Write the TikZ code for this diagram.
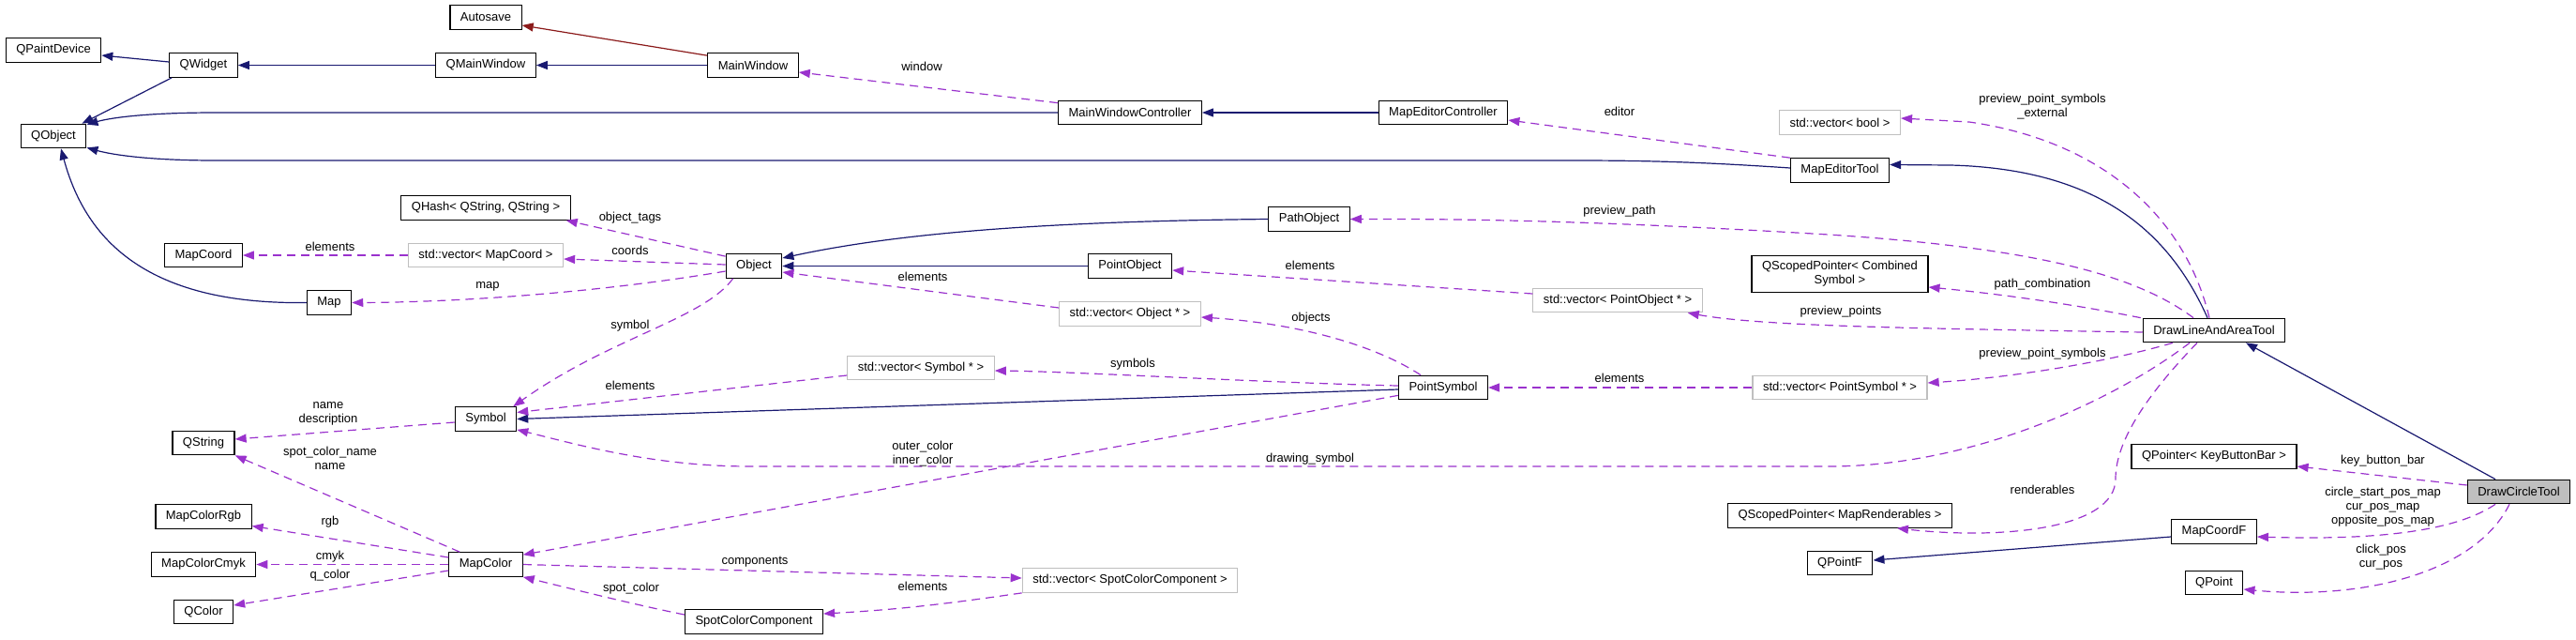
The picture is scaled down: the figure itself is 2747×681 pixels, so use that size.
\documentclass[tikz,border=0pt]{standalone}
\usepackage{fontspec}
\setmainfont{Liberation Sans}
\usetikzlibrary{arrows.meta}
\definecolor{edgeblue}{HTML}{191970}
\definecolor{edgepurple}{HTML}{9A32CD}
\definecolor{edgered}{HTML}{8B1A1A}
\definecolor{extgray}{HTML}{BFBFBF}

\begin{document}
\begin{tikzpicture}[x=1pt,y=-1pt,font=\fontsize{13}{15}\selectfont,
    cls/.style={draw=black,fill=white,line width=1.2pt,minimum height=25.5pt,inner xsep=11pt,inner ysep=2pt},
    ext/.style={cls,draw=extgray},
    cur/.style={cls,fill=extgray},
    inh/.style={draw=edgeblue,line width=1.2pt,-{Triangle[length=12pt,width=9pt]}},
    priv/.style={inh,draw=edgered,-{Triangle[length=12pt,width=9pt,fill=edgered]}},
    usage/.style={draw=edgepurple,line width=1.2pt,dash pattern=on 9pt off 6pt,-{Triangle[length=12pt,width=9pt,fill=edgepurple]}},
    lbl/.style={inner sep=0pt,text height=9pt,text depth=3pt},
    lbl2/.style={inner sep=0pt,align=center}]
    \useasboundingbox (0,0) rectangle (2747,681);

    \node[cls] (qpd) at (57,53.5) {QPaintDevice};
    \node[cls] (qwid) at (217,69.5) {QWidget};
    \node[cls] (qobj) at (57,145) {QObject};
    \node[cls] (autosave) at (518,18.5) {Autosave};
    \node[cls] (qmw) at (518,69.5) {QMainWindow};
    \node[cls] (mainwin) at (803,69.5) {MainWindow};
    \node[cls] (mwc) at (1205,120) {MainWindowController};
    \node[cls] (mec) at (1539,120) {MapEditorController};
    \node[ext] (vbool) at (1962,130.5) {std::vector< bool >};
    \node[cls] (met) at (1962,181.5) {MapEditorTool};
    \node[cls] (qhash) at (518,221.5) {QHash< QString, QString >};
    \node[cls] (pathobj) at (1396,233.5) {PathObject};
    \node[cls] (mapcoord) at (217,272) {MapCoord};
    \node[ext] (vmapcoord) at (518,272) {std::vector< MapCoord >};
    \node[cls] (object) at (804,283.5) {Object};
    \node[cls] (pointobj) at (1205,283.5) {PointObject};
    \node[cls,align=center,inner ysep=6pt] (qspcs) at (1962,292) {QScopedPointer< Combined\\Symbol >};
    \node[ext] (vpointobj) at (1725,320) {std::vector< PointObject * >};
    \node[ext] (vobject) at (1205,334.5) {std::vector< Object * >};
    \node[cls] (map) at (351,322.5) {Map};
    \node[cls] (dlat) at (2361,352) {DrawLineAndAreaTool};
    \node[ext] (vsymbol) at (982,392) {std::vector< Symbol * >};
    \node[cls] (pointsym) at (1539,413) {PointSymbol};
    \node[ext] (vpointsym) at (1962,413) {std::vector< PointSymbol * >};
    \node[cls] (symbol) at (518,446.5) {Symbol};
    \node[cls] (qstring) at (217,472) {QString};
    \node[cls] (qpkbb) at (2361,486.5) {QPointer< KeyButtonBar >};
    \node[cur] (dct) at (2686,524) {DrawCircleTool};
    \node[cls] (qspmr) at (1962,549.5) {QScopedPointer< MapRenderables >};
    \node[cls] (rgb) at (217,550.5) {MapColorRgb};
    \node[cls] (mcf) at (2361,566.5) {MapCoordF};
    \node[cls] (cmyk) at (217,601.5) {MapColorCmyk};
    \node[cls] (mapcolor) at (518,601.5) {MapColor};
    \node[cls] (qpointf) at (1962,600) {QPointF};
    \node[ext] (vscc) at (1205,618.5) {std::vector< SpotColorComponent >};
    \node[cls] (qpoint) at (2361,621) {QPoint};
    \node[cls] (qcolor) at (217,652) {QColor};
    \node[cls] (scc) at (804,662.5) {SpotColorComponent};

    \draw[inh] ([yshift=3.5pt]qwid.west) -- ([yshift=-5.5pt]qpd.east);
    \draw[inh] ([xshift=3pt]qwid.south west) -- ([xshift=-5pt]qobj.north east);
    \draw[inh] (qmw.west) -- (qwid.east);
    \draw[inh] (mainwin.west) -- (qmw.east);
    \draw[priv] ([yshift=-3pt]mainwin.north west) -- ([yshift=-8.5pt]autosave.east);
    \draw[inh] (mwc.west) -- (230,120) .. controls (160,120) and (120,125) .. ([yshift=-1pt]qobj.north east);
    \draw[inh] ([yshift=2.5pt]met.west) .. controls (1820,173) and (1760,171) .. (1680,171) -- (230,171) .. controls (160,171) and (120,165) .. ([yshift=1pt]qobj.south east);
    \draw[inh] (map.west) .. controls (150,325) and (90,250) .. ([xshift=8pt]qobj.south);
    \draw[inh] (mec.west) -- (mwc.east);
    \draw[inh] (pathobj.west) .. controls (1100,236) and (950,250) .. ([yshift=8.5pt]object.east);
    \draw[inh] (pointobj.west) -- (object.east);
    \draw[inh] ([yshift=-2pt]pointsym.west) -- (symbol.east);
    \draw[inh] ([xshift=-7pt]dlat.north) .. controls (2310,240) and (2230,180) .. (2080,176) -- ([yshift=6pt]met.east);
    \draw[inh] ([xshift=-25pt]dct.north) -- ([xshift=34pt]dlat.south);
    \draw[inh] ([yshift=-5.5pt]mcf.west) -- ([yshift=3pt]qpointf.east);

    \draw[usage] ([yshift=-3pt]mwc.north west) -- ([yshift=-7.5pt]mainwin.east);
    \node[lbl] (l-window) at (983,72) {window};
    \draw[usage] (met.north west) -- ([yshift=-8pt]mec.east);
    \node[lbl] (l-editor) at (1727,120) {editor};
    \draw[usage] ([xshift=-5pt]dlat.north) .. controls (2330,230) and (2240,150) .. (2100,130) -- ([yshift=4.5pt]vbool.east);
    \node[lbl2] (l-ext) at (2178,114) {preview\_point\_symbols\\\_external};
    \draw[usage] ([xshift=-22pt]dlat.north) .. controls (2280,295) and (2180,265) .. (1950,250) .. controls (1750,238) and (1600,233) .. (pathobj.east);
    \node[lbl] (l-ppath) at (1727,225) {preview\_path};
    \draw[usage] ([xshift=-2pt]dlat.north west) .. controls (2200,322) and (2120,312) .. ([yshift=-14pt]qspcs.east);
    \node[lbl] (l-pcomb) at (2178,303) {path\_combination};
    \draw[usage] ([yshift=-2pt]dlat.west) .. controls (2050,350) and (1880,348) .. ([xshift=-16pt]vpointobj.south east);
    \node[lbl] (l-ppoints) at (1963,332) {preview\_points};
    \draw[usage] ([xshift=-44pt]dlat.south) .. controls (2250,385) and (2150,402) .. ([yshift=5pt]vpointsym.east);
    \node[lbl] (l-pps) at (2178,377) {preview\_point\_symbols};
    \draw[usage] ([xshift=-26pt]dlat.south) .. controls (2250,430) and (2100,497) .. (1950,497) -- (800,497) .. controls (700,497) and (620,475) .. ([yshift=2pt]symbol.south east);
    \node[lbl] (l-dsym) at (1397,489) {drawing\_symbol};
    \draw[usage] ([xshift=-18pt]dlat.south) .. controls (2290,420) and (2256,470) .. (2256,510) .. controls (2256,565) and (2130,575) .. ([xshift=-59pt]qspmr.south east);
    \node[lbl] (l-rend) at (2178,523) {renderables};
    \draw[usage] ([yshift=7pt]dct.west) -- ([yshift=-10.5pt]qpkbb.east);
    \node[lbl] (l-kbb) at (2541,491) {key\_button\_bar};
    \draw[usage] ([xshift=-25pt]dct.south) .. controls (2620,565) and (2540,576) .. ([yshift=-5.5pt]mcf.east);
    \node[lbl2] (l-cpos) at (2541,540) {circle\_start\_pos\_map\\cur\_pos\_map\\opposite\_pos\_map};
    \draw[usage] ([xshift=-10pt]dct.south) .. controls (2640,610) and (2520,640) .. ([yshift=-7pt]qpoint.east);
    \node[lbl2] (l-click) at (2539,594) {click\_pos\\cur\_pos};

    \draw[usage] ([xshift=-24pt]pointsym.north) .. controls (1470,370) and (1390,345) .. ([yshift=-3.5pt]vobject.east);
    \node[lbl] (l-objects) at (1398,339) {objects};
    \draw[usage] ([yshift=7pt]vpointobj.west) -- ([yshift=-4.5pt]pointobj.east);
    \node[lbl] (l-el1) at (1397,284) {elements};
    \draw[usage] ([yshift=6.5pt]vobject.west) -- ([yshift=-6.5pt]object.east);
    \node[lbl] (l-el2) at (984,296) {elements};
    \draw[usage] ([yshift=-3pt]object.north west) -- ([xshift=-5pt]qhash.south east);
    \node[lbl] (l-tags) at (672,232) {object\_tags};
    \draw[usage] ([yshift=1.5pt]object.west) -- ([yshift=-4pt]vmapcoord.east);
    \node[lbl] (l-coords) at (672,268) {coords};
    \draw[usage] ([yshift=-5.5pt]object.west) .. controls (650,310) and (500,322) .. (map.east);
    \node[lbl] (l-map) at (520,304) {map};
    \draw[usage] ([xshift=8pt]object.south west) .. controls (750,340) and (650,360) .. ([xshift=-4pt]symbol.north east);
    \node[lbl] (l-symbol) at (672,347) {symbol};
    \draw[usage] ([yshift=-8pt]vsymbol.west) -- ([yshift=7pt]symbol.east);
    \node[lbl] (l-el3) at (672,412) {elements};
    \draw[usage] ([yshift=2pt]pointsym.west) .. controls (1350,408) and (1150,396) .. ([yshift=-3pt]vsymbol.east);
    \node[lbl] (l-syms) at (1208,388) {symbols};
    \draw[usage] (vpointsym.west) -- (pointsym.east);
    \node[lbl] (l-el4) at (1727,404) {elements};
    \draw[usage] ([yshift=5pt]pointsym.south west) -- ([yshift=-3pt]mapcolor.north east);
    \node[lbl2] (l-colors) at (984,484) {outer\_color\\inner\_color};
    \draw[usage] (vmapcoord.west) -- (mapcoord.east);
    \node[lbl] (l-el0) at (352,264) {elements};
    \draw[usage] ([yshift=-3.5pt]symbol.west) -- ([yshift=4pt]qstring.east);
    \node[lbl2] (l-name) at (350,441) {name\\description};
    \draw[usage] ([xshift=12pt]mapcolor.north west) -- (qstring.south east);
    \node[lbl2] (l-scname) at (352,488) {spot\_color\_name\\name};
    \draw[usage] ([yshift=7.5pt]mapcolor.west) -- ([yshift=-10pt]rgb.east);
    \node[lbl] (l-rgb) at (352,556) {rgb};
    \draw[usage] (mapcolor.west) -- (cmyk.east);
    \node[lbl] (l-cmyk) at (352,593) {cmyk};
    \draw[usage] ([yshift=-6.5pt]mapcolor.west) -- ([yshift=7pt]qcolor.east);
    \node[lbl] (l-qcolor) at (352,613) {q\_color};
    \draw[usage] (mapcolor.east) -- ([yshift=2.5pt]vscc.west);
    \node[lbl] (l-comp) at (805,598) {components};
    \draw[usage] (vscc.south west) .. controls (1000,645) and (950,650) .. ([yshift=8.5pt]scc.east);
    \node[lbl] (l-el5) at (984,626) {elements};
    \draw[usage] ([yshift=7.5pt]scc.west) .. controls (680,645) and (620,630) .. (mapcolor.south east);
    \node[lbl] (l-spot) at (673,627) {spot\_color};
\end{tikzpicture}
\end{document}
